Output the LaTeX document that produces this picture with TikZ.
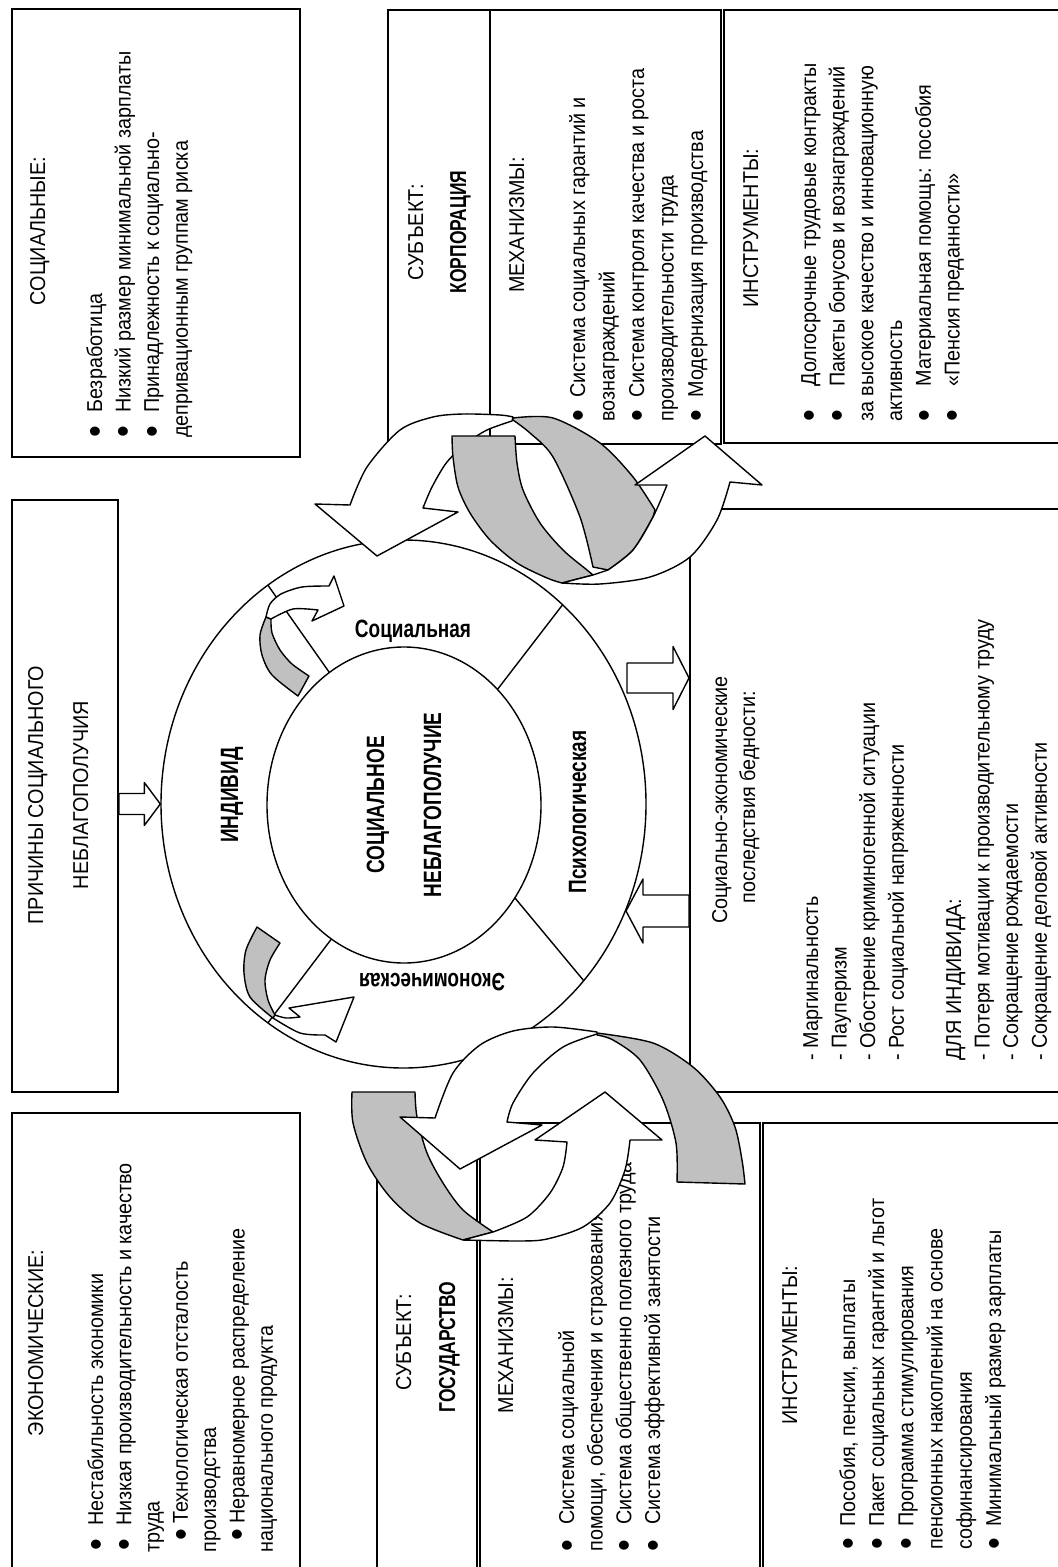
\documentclass[tikz,border=0pt]{standalone}
\usepackage{fontspec}
\setmainfont{Liberation Sans}[FakeStretch=0.92]
\newfontfamily\condfont{Liberation Sans}[FakeStretch=0.76]
\usetikzlibrary{positioning}
\usetikzlibrary{shapes.geometric}
\usetikzlibrary{calc}

\definecolor{ribbon}{RGB}{192,192,192}
\newcommand\bulmark{\raisebox{-2.6pt}{\scalebox{1.7}{\textbullet}}}
\newcommand\bul[2][0pt]{\hspace*{#1}\makebox[#2][l]{\bulmark}}
\newcommand\blockarrow[5]{%
  \draw[flow] let \p1=(#1), \p2=(#2) in
    ({\x1},{\y2+#3}) -- ({\x2-(#5)},{\y2+#3}) -- ({\x2-(#5)},{\y2+#4}) -- (\x2,\y2)
    -- ({\x2-(#5)},{\y2-#4}) -- ({\x2-(#5)},{\y2-#3}) -- ({\x1},{\y2-#3}) -- cycle;}

\tikzset{
  box/.style 2 args={draw, line width=.9pt, inner sep=0pt, anchor=north west,
    minimum width=#1*.5pt, minimum height=#2*.5pt},
  ln/.style={rotate=90, anchor=base west, inner sep=0pt},
  ttl/.style={rotate=90, anchor=base, inner sep=0pt},
  bold/.style={inner sep=0pt, font={\condfont\bfseries\fontsize{#1}{#1}\selectfont}},
  bold/.default=12.5,
  band/.style={draw, line width=.7pt, fill=ribbon, line join=round},
  flow/.style={draw, line width=.7pt, fill=white, line join=round},
}

\begin{document}
\fontsize{10.75}{13}\selectfont
\begin{tikzpicture}[x=.5pt, y=-.5pt]
\useasboundingbox (0,0) rectangle (1058,1567);
\clip (0,0) rectangle (1058,1567);

% boxes
\node[box={288}{448}] (soc) at (11,8) {};
\node[box={106}{592}] (cause) at (11,499) {};
\node[box={288}{470}] (econ) at (11,1112) {};
\node[box={102}{434}] (corpsubj) at (387,9) {};
\node[box={231}{434}] (corpmech) at (489,9) {};
\node[box={345}{433}] (corpinstr) at (723,9) {};
\node[box={380}{583}] (conseq) at (689,508) {};
\node[box={100}{470}] (statesubj) at (376,1122) {};
\node[box={280}{470}] (statemech) at (479,1122) {};
\node[box={306}{470}] (stateinstr) at (762,1122) {};

% titles
\node[ttl] (soc-t) at (45,231) {СОЦИАЛЬНЫЕ:};
\node[ttl] (cause-t1) at (43,795) {ПРИЧИНЫ СОЦИАЛЬНОГО};
\node[ttl] (cause-t2) at (88,795) {НЕБЛАГОПОЛУЧИЯ};
\node[ttl] (econ-t) at (43,1343) {ЭКОНОМИЧЕСКИЕ:};
\node[ttl] (corpsubj-t) at (423,232) {СУБЪЕКТ:};
\node[ttl, bold=11.5] (corp) at (466,232) {КОРПОРАЦИЯ};
\node[ttl] (corpmech-t) at (524,225) {МЕХАНИЗМЫ:};
\node[ttl] (corpinstr-t) at (758,228) {ИНСТРУМЕНТЫ:};
\node[ttl] (conseq-t1) at (727,800) {Социально-экономические};
\node[ttl] (conseq-t2) at (755,797) {последствия бедности:};
\node[ttl] (statesubj-t) at (411,1342) {СУБЪЕКТ:};
\node[ttl, bold=11.5] (state) at (455,1347) {ГОСУДАРСТВО};
\node[ttl] (statemech-t) at (513,1345) {МЕХАНИЗМЫ:};
\node[ttl] (stateinstr-t) at (797,1345) {ИНСТРУМЕНТЫ:};

% lists
\foreach \t [count=\i from 0] in {{\bul{12.5pt}Безработица},
    {\bul{12.5pt}Низкий размер минимальной зарплаты},
    {\bul{12.5pt}Принадлежность к социально-}, депривационным группам риска}
  \node[ln] (soc-\i) at (102+28.6*\i,438) {\t};
\foreach \t [count=\i from 0] in {{\bul[1.3pt]{12.2pt}Нестабильность экономики},
    {\bul[1.3pt]{12.2pt}Низкая производительность и качество}, труда,
    {\bul[6.3pt]{8.2pt}Технологическая отсталость}, производства,
    {\bul[6.3pt]{8.2pt}Неравномерное распределение}, национального продукта}
  \node[ln] (econ-\i) at (103+28.3*\i,1553) {\t};
\foreach \t [count=\i from 0] in {{\bul{12pt}Система социальных гарантий и}, вознаграждений,
    {\bul{12pt}Система контроля качества и роста}, производительности труда,
    {\bul{12pt}Модернизация производства}}
  \node[ln] (corpmech-\i) at (585+29.5*\i,422) {\t};
\foreach \t [count=\i from 0] in {{\bul{17.5pt}Долгосрочные трудовые контракты},
    {\bul{17.5pt}Пакеты бонусов и вознаграждений}, за высокое качество и инновационную,
    активность, {\bul{17.5pt}Материальная помощь: пособия}, {\bul{17.5pt}«Пенсия преданности»}}
  \node[ln] (corpinstr-\i) at (816+28.7*\i,422) {\t};
\foreach \t [count=\i from 0] in {- Маргинальность, - Пауперизм,
    - Обострение криминогенной ситуации, - Рост социальной напряженности}
  \node[ln] (conseq-\i) at (818+28.6*\i,1061) {\t};
\foreach \t [count=\i from 5] in {ДЛЯ ИНДИВИДА:, - Потеря мотивации к производительному труду,
    - Сокращение рождаемости, - Сокращение деловой активности}
  \node[ln] (conseq-\i) at (818+28.6*\i,1061) {\t};
\foreach \t [count=\i from 0] in {{\bul{13.5pt}Система социальной},
    {помощи, обеспечения и страхования}, {\bul{13.5pt}Система общественно полезного труда},
    {\bul{13.5pt}Система эффективной занятости}}
  \node[ln] (statemech-\i) at (574+28.7*\i,1552) {\t};
\foreach \t [count=\i from 0] in {{\bul{11.5pt}Пособия, пенсии, выплаты},
    {\bul{11.5pt}Пакет социальных гарантий и льгот}, {\bul{11.5pt}Программа стимулирования},
    пенсионных накоплений на основе, софинансирования, {\bul{11.5pt}Минимальный размер зарплаты}}
  \node[ln] (stateinstr-\i) at (855+29.2*\i,1550) {\t};

% ring
\node[ellipse, draw, fill=white, line width=.7pt, inner sep=0pt,
  minimum width=242.5pt, minimum height=264pt] (individ) at (403.5,804) {};
\node[ellipse, draw, line width=.7pt, inner sep=0pt, rotate=90, minimum width=158pt,
  minimum height=137pt, align=center,
  font={\condfont\bfseries\fontsize{12.5}{28.5}\selectfont}] (core) at (404,805)
  {СОЦИАЛЬНОЕ\\НЕБЛАГОПОЛУЧИЕ};
\foreach \a/\b in {237/236, 313/311, 36/42, 122/124}
  \draw[line width=.7pt] ({404+137*cos(\a)},{805+158*sin(\a)})
    -- ({403.5+242.5*cos(\b)},{804+264*sin(\b)});
\node[bold, anchor=base] (soc-l) at (413,637) {Социальная};
\node[bold, anchor=base, rotate=180] (eco-l) at (432,973) {Экономическая};
\node[bold, anchor=base, rotate=90] (ind-l) at (238,795) {ИНДИВИД};
\node[bold, anchor=base, rotate=90] (psy-l) at (586,812) {Психологическая};

% small arrows in the ring
\filldraw[band] plot[smooth] coordinates {(266,617) (260,635) (262,655) (272,675) (298,696)}
  -- (309,676) -- plot[smooth] coordinates {(309,676) (292,664) (280,650) (272,633) (271,619)} -- cycle;
\filldraw[flow] plot[smooth] coordinates {(266,617) (270,604) (281,594) (302,587) (329,586)}
  -- (334,576) -- (344,606) -- (312,621) -- (318,610)
  -- plot[smooth] coordinates {(318,610) (293,609) (271,619)} -- cycle;
\filldraw[band] (257,927) -- (280,943)
  -- plot[smooth] coordinates {(280,943) (270,960) (265,980) (268,1000) (275,1015)}
  -- plot[smooth] coordinates {(273,1018) (250,997) (244,973) (246,950) (257,927)} -- cycle;
\filldraw[flow] plot[smooth] coordinates {(273,1018) (300,1033) (325,1035)}
  -- (336,1042) -- (354,997) -- (289,1008) -- (300,1017)
  -- plot[smooth] coordinates {(300,1017) (286,1018) (275,1015)} -- cycle;

% block arrows
\coordinate (c-in) at (cause.east |- individ.west);
\blockarrow{c-in}{individ.west}{5.25pt}{10.75pt}{8pt}
\coordinate (r-out) at (627,678);
\blockarrow{r-out}{conseq.west |- r-out}{7.5pt}{15.75pt}{8pt}
\coordinate (r-in) at (626,911);
\blockarrow{conseq.west |- r-in}{r-in}{8pt}{16pt}{-8.5pt}

% corporation cycle
\filldraw[flow] (350,505) -- (315,504) -- (377,556) -- (458,512) -- (423,508)
  -- plot[smooth] coordinates {(423,508) (432,487) (447,462) (467,443) (487,430) (512,421)}
  -- plot[smooth] coordinates {(513,417) (500,415) (463,414) (433,417) (400,430) (367,467) (350,505)} -- cycle;
\filldraw[band] plot[smooth] coordinates {(513,418) (553,418) (600,443) (633,477) (655,510)}
  -- plot[smooth] coordinates {(653,517) (633,550) (608,570)} -- (593,567)
  -- plot[smooth] coordinates {(593,567) (580,517) (553,457) (530,433) (513,420)} -- cycle;
\filldraw[band] (452,436) -- (515,436)
  -- plot[smooth] coordinates {(515,436) (517,463) (523,490) (540,523) (563,550) (587,570) (593,575)}
  -- (562,583)
  -- plot[smooth] coordinates {(562,583) (547,578) (517,563) (490,540) (470,513) (458,487) (453,457) (452,436)} -- cycle;
\filldraw[flow] (562,583) -- (593,575) -- (608,570)
  -- plot[smooth] coordinates {(608,570) (633,550) (653,517) (667,485)}
  -- (635,485) -- (705,436) -- (762,485) -- (730,482)
  -- plot[smooth] coordinates {(730,482) (717,520) (690,557) (650,577) (600,584) (562,583)} -- cycle;

% state cycle
\filldraw[band] (352,1092) -- (415,1092)
  -- plot[smooth] coordinates {(415,1092) (417,1117) (427,1153) (443,1183) (463,1210) (493,1232)}
  -- (463,1240)
  -- plot[smooth] coordinates {(463,1240) (420,1223) (390,1197) (367,1163) (353,1123) (352,1092)} -- cycle;
\filldraw[band] plot[smooth] coordinates {(597,1033) (653,1043) (693,1067) (720,1097) (735,1127) (742,1160) (745,1184)}
  -- (677,1182)
  -- plot[smooth] coordinates {(677,1182) (676,1143) (663,1100) (640,1060) (613,1040) (597,1035)} -- cycle;
\filldraw[flow] (435,1118) -- (400,1117) -- (460,1169) -- (542,1125) -- (507,1122)
  -- plot[smooth] coordinates {(507,1122) (513,1103) (533,1073) (563,1047) (597,1034)}
  -- plot[smooth] coordinates {(597,1032) (553,1027) (513,1031) (480,1045) (453,1073) (435,1118)} -- cycle;
\filldraw[flow] (463,1240) -- (493,1232)
  -- plot[smooth] coordinates {(493,1232) (527,1217) (550,1193) (563,1167) (567,1142)}
  -- (535,1140) -- (605,1092) -- (662,1140) -- (630,1140)
  -- plot[smooth] coordinates {(630,1140) (625,1170) (610,1203) (583,1227) (547,1239) (520,1241) (463,1240)} -- cycle;
\end{tikzpicture}
\end{document}
